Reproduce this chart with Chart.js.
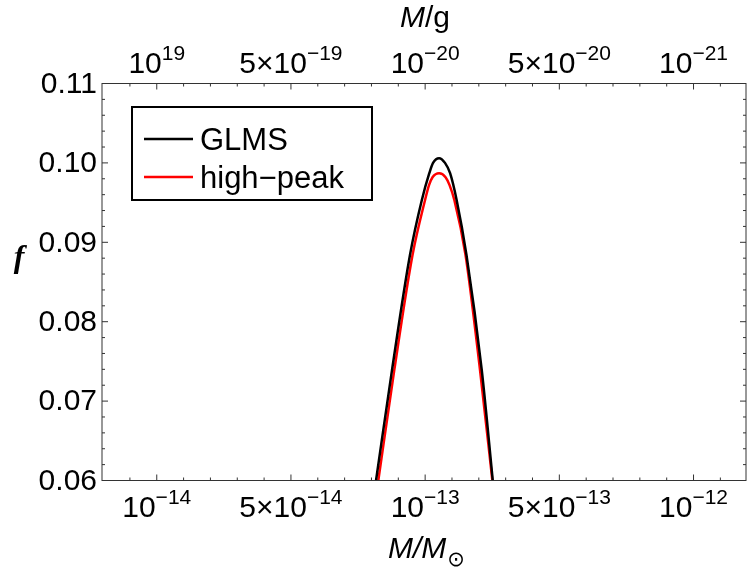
<!DOCTYPE html>
<html>
<head>
<meta charset="utf-8">
<script src="https://cdn.jsdelivr.net/npm/chart.js@4/dist/chart.umd.min.js"></script>
<style>
  html, body { margin: 0; padding: 0; background: #fff; }
  #wrap { width: 747px; height: 572px; }
</style>
</head>
<body>
<div id="wrap"><canvas id="chart"></canvas></div>
<script>
// x is the position along the axis in tick units (0 = first labelled tick)
var xRange = [-0.408, 4.391];
var yRange = [0.06, 0.11];

var xTickPos = [0, 1, 2, 3, 4];
var bottomTickBase = ["10", "5\u00d710", "10", "5\u00d710", "10"];
var bottomTickExp = ["\u221214", "\u221214", "\u221213", "\u221213", "\u221212"];
var topTickBase = ["10", "5\u00d710", "10", "5\u00d710", "10"];
var topTickExp = ["19", "\u221219", "\u221220", "\u221220", "\u221221"];
var yTicks = [0.06, 0.07, 0.08, 0.09, 0.10, 0.11];

var seriesNames = ["GLMS", "high\u2212peak"];
var seriesColors = ["#000000", "#ff0000"];

// GLMS curve
var xGLMS = [1.634, 1.753, 1.887, 1.975, 2.031, 2.059, 2.104,
             2.148, 2.186, 2.235, 2.308, 2.422, 2.504];
var fGLMS = [0.0600, 0.0739, 0.0884, 0.0953, 0.0987, 0.1000, 0.1006,
             0.1000, 0.0987, 0.0953, 0.0884, 0.0739, 0.0600];

// high-peak curve
var xHigh = [1.651, 1.770, 1.906, 1.999, 2.029, 2.055, 2.104,
             2.152, 2.182, 2.218, 2.301, 2.409, 2.501];
var fHigh = [0.0600, 0.0739, 0.0884, 0.0953, 0.0972, 0.0982, 0.0987,
             0.0982, 0.0972, 0.0953, 0.0884, 0.0739, 0.0600];

function pairs(xs, ys) {
  return xs.map(function (x, i) { return { x: x, y: ys[i] }; });
}

var FONT = "'Liberation Sans', Arial, sans-serif";

function drawSupLabel(ctx, base, exp, cx, baseline, size) {
  var supSize = Math.round(size * 0.7);
  ctx.font = size + "px " + FONT;
  var wb = ctx.measureText(base).width;
  ctx.font = supSize + "px " + FONT;
  var we = ctx.measureText(exp).width;
  var left = cx - (wb + we) / 2;
  ctx.textAlign = "left";
  ctx.textBaseline = "alphabetic";
  ctx.font = size + "px " + FONT;
  ctx.fillText(base, left, baseline);
  ctx.font = supSize + "px " + FONT;
  ctx.fillText(exp, left + wb, baseline - 13);
}

var framePlugin = {
  id: "frame",
  afterDraw: function (chart) {
    var ctx = chart.ctx;
    var a = chart.chartArea;
    var sx = chart.scales.x;
    var sy = chart.scales.y;
    ctx.save();

    // frame
    ctx.strokeStyle = "#333";
    ctx.lineWidth = 1;
    ctx.strokeRect(a.left, a.top, a.right - a.left, a.bottom - a.top);

    // ticks (inward)
    ctx.beginPath();
    var v, p, len, i;
    for (i = -2; i <= 22; i++) {
      v = i * 0.2;
      p = sx.getPixelForValue(v);
      if (p < a.left + 2 || p > a.right - 2) continue;
      len = (i % 5 === 0) ? 6 : 3;
      ctx.moveTo(p, a.bottom); ctx.lineTo(p, a.bottom - len);
      ctx.moveTo(p, a.top); ctx.lineTo(p, a.top + len);
    }
    for (i = 30; i <= 55; i++) {
      v = i * 0.002;
      p = sy.getPixelForValue(v);
      if (p < a.top + 2 || p > a.bottom - 2) continue;
      len = (i % 5 === 0) ? 6 : 3;
      ctx.moveTo(a.left, p); ctx.lineTo(a.left + len, p);
      ctx.moveTo(a.right, p); ctx.lineTo(a.right - len, p);
    }
    ctx.stroke();

    // tick labels
    ctx.fillStyle = "#000";
    xTickPos.forEach(function (t, k) {
      var px = sx.getPixelForValue(t);
      drawSupLabel(ctx, bottomTickBase[k], bottomTickExp[k], px, 517, 30);
      drawSupLabel(ctx, topTickBase[k], topTickExp[k], px, 73, 30);
    });
    ctx.font = "30px " + FONT;
    ctx.textAlign = "right";
    ctx.textBaseline = "middle";
    yTicks.forEach(function (t) {
      ctx.fillText(t.toFixed(2), a.left - 5, sy.getPixelForValue(t) + 1);
    });

    // axis titles
    ctx.textBaseline = "alphabetic";
    ctx.textAlign = "left";
    ctx.font = "italic 30px " + FONT;
    var wM = ctx.measureText("M").width;
    ctx.font = "30px " + FONT;
    var wg = ctx.measureText("/g").width;
    var x0 = 425 - (wM + wg) / 2;
    ctx.font = "italic 30px " + FONT;
    ctx.fillText("M", x0, 27);
    ctx.font = "30px " + FONT;
    ctx.fillText("/g", x0 + wM, 27);

    ctx.font = "italic 30px " + FONT;
    var wMM = ctx.measureText("M/M").width;
    ctx.font = "21px 'DejaVu Sans', " + FONT;
    var wSun = ctx.measureText("\u2299").width;
    x0 = 426 - (wMM + wSun) / 2;
    ctx.font = "italic 30px " + FONT;
    ctx.fillText("M/M", x0, 558);
    ctx.font = "21px 'DejaVu Sans', " + FONT;
    ctx.fillText("\u2299", x0 + wMM + 1, 566);

    ctx.font = "bold italic 32px 'Liberation Serif', 'Times New Roman', serif";
    ctx.textAlign = "center";
    ctx.fillText("f", 19, 267);

    // legend
    ctx.lineWidth = 2;
    ctx.strokeStyle = "#000";
    ctx.strokeRect(132, 107, 240, 93);
    var rows = [139, 177];
    ctx.font = "31px " + FONT;
    ctx.textAlign = "left";
    rows.forEach(function (ry, k) {
      ctx.strokeStyle = seriesColors[k];
      ctx.lineWidth = 2.5;
      ctx.beginPath();
      ctx.moveTo(144, ry); ctx.lineTo(193, ry);
      ctx.stroke();
      ctx.fillStyle = "#000";
      ctx.fillText(seriesNames[k], 200, ry + 11);
    });

    ctx.restore();
  }
};

var ctx = document.getElementById("chart").getContext("2d");
var chart = new Chart(ctx, {
  type: "line",
  data: {
    datasets: [
      {
        label: seriesNames[0],
        data: pairs(xGLMS, fGLMS),
        borderColor: seriesColors[0],
        borderWidth: 2.5,
        pointRadius: 0,
        fill: false,
        cubicInterpolationMode: "monotone",
      },
      {
        label: seriesNames[1],
        data: pairs(xHigh, fHigh),
        borderColor: seriesColors[1],
        borderWidth: 2.5,
        pointRadius: 0,
        fill: false,
        cubicInterpolationMode: "monotone",
      },
    ],
  },
  options: {
    responsive: true,
    maintainAspectRatio: false,
    animation: false,
    layout: { padding: { left: 0, right: 1, top: 0, bottom: 0 } },
    plugins: {
      legend: { display: false },
      tooltip: { enabled: false },
    },
    scales: {
      x: {
        type: "linear",
        position: "bottom",
        min: xRange[0],
        max: xRange[1],
        ticks: { display: false },
        grid: { display: false },
        border: { display: false },
        afterFit: function (s) { s.height = 91.5; },
      },
      x2: {
        type: "linear",
        position: "top",
        min: xRange[0],
        max: xRange[1],
        ticks: { display: false },
        grid: { display: false },
        border: { display: false },
        afterFit: function (s) { s.height = 83.5; },
      },
      y: {
        type: "linear",
        position: "left",
        min: yRange[0],
        max: yRange[1],
        ticks: { display: false },
        grid: { display: false },
        border: { display: false },
        afterFit: function (s) { s.width = 102; },
      },
    },
  },
  plugins: [framePlugin],
});
</script>
</body>
</html>
